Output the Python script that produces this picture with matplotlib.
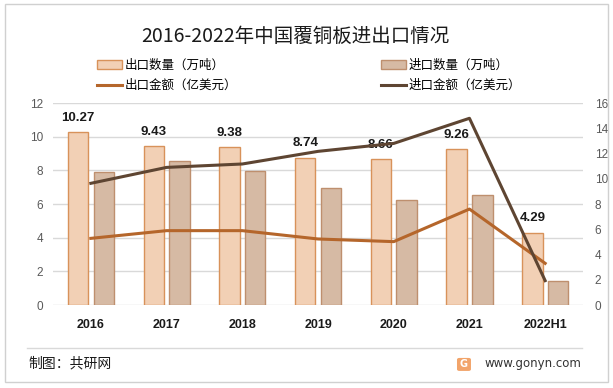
import matplotlib.pyplot as plt
import numpy as np
from matplotlib.patches import Rectangle, FancyBboxPatch
from matplotlib.lines import Line2D

plt.rcParams['font.family'] = ['Noto Sans CJK SC', 'DejaVu Sans']

years        = ['2016', '2017', '2018', '2019', '2020', '2021', '2022H1']
export_qty   = [10.27, 9.43, 9.38, 8.74, 8.66, 9.26, 4.29]   # 万吨
import_qty   = [7.90, 8.56, 7.96, 6.93, 6.24, 6.52, 1.41]    # 万吨
export_amt   = [5.28, 5.89, 5.89, 5.23, 5.02, 7.60, 3.30]    # 亿美元
import_amt   = [9.64, 10.90, 11.17, 12.17, 12.80, 14.79, 1.93]  # 亿美元

fig = plt.figure(figsize=(6.13, 3.88), dpi=100)
ax = fig.add_axes([0.0865, 0.2139, 0.8646, 0.5206])
ax2 = ax.twinx()

x = np.arange(len(years))
w = 0.27
off = 0.17

ax.bar(x - off, export_qty, w, color='#F2D0B5', edgecolor='#D8925A', linewidth=1, zorder=2)
ax.bar(x + off, import_qty, w, color='#D6BAA4', edgecolor='#BE8F6E', linewidth=1, zorder=2)

for xi, v in zip(x, export_qty):
    ax.text(xi - off, v + 0.5, f'{v:.2f}', ha='center', va='bottom',
            fontsize=9.5, fontweight='bold', color='#1a1a1a', family='Liberation Sans')

ax2.plot(x, export_amt, color='#B5662B', linewidth=2.2, zorder=3)
ax2.plot(x, import_amt, color='#5E4532', linewidth=2.2, zorder=3)

ax.set_xlim(-0.5, len(years) - 0.5)
ax.set_ylim(0, 12)
ax.set_yticks(np.arange(0, 13, 2))
ax2.set_ylim(0, 16)
ax2.set_yticks(np.arange(0, 17, 2))
ax.set_xticks(x)
ax.set_xticklabels(years, fontweight='bold', fontsize=9, family='Liberation Sans')
for lab in ax.get_yticklabels() + ax2.get_yticklabels():
    lab.set_family('Liberation Sans')
ax.grid(axis='y', color='#d9d9d9', linewidth=1, zorder=0)
ax.set_axisbelow(True)
for a in (ax, ax2):
    for s in a.spines.values():
        s.set_visible(False)
    a.tick_params(length=0, labelsize=8.5, labelcolor='#595959')
ax.tick_params(axis='x', labelcolor='#1a1a1a', labelsize=9, pad=10)
ax.tick_params(axis='y', pad=7)
ax2.tick_params(axis='y', pad=8.5)
ax2.set_zorder(ax.get_zorder() + 1)
ax2.patch.set_visible(False)

fig.text(0.481, 0.905, '2016-2022年中国覆铜板进出口情况', ha='center', va='center',
         fontsize=14, color='#1a1a1a')

handles = [Rectangle((0, 0), 1, 1, facecolor='#F2D0B5', edgecolor='#D8925A'),
           Line2D([], [], color='#B5662B', linewidth=2.2),
           Rectangle((0, 0), 1, 1, facecolor='#D6BAA4', edgecolor='#BE8F6E'),
           Line2D([], [], color='#5E4532', linewidth=2.2)]
labels = ['出口数量（万吨）', '出口金额（亿美元）', '进口数量（万吨）', '进口金额（亿美元）']
fig.legend(handles, labels, ncol=2, loc='upper left', bbox_to_anchor=(0.150, 0.862),
           frameon=False, fontsize=9, handlelength=2.0, handleheight=0.7,
           columnspacing=11.5, labelspacing=0.6, handletextpad=0.2, borderaxespad=0)

# outer frame and footer
fig.patches.append(Rectangle((0.008, 0.015), 0.984, 0.975, transform=fig.transFigure,
                             fill=False, edgecolor='#d0d0d0', linewidth=1))
fig.add_artist(Line2D([0.044, 0.949], [0.103, 0.103], color='#d9d9d9', linewidth=1))
fig.text(0.047, 0.064, '制图：共研网', fontsize=10, va='center', color='#1a1a1a')
fig.patches.append(FancyBboxPatch((0.7455, 0.044), 0.0228, 0.0335, transform=fig.transFigure,
                                  boxstyle='round,pad=0,rounding_size=0.004',
                                  facecolor='#F2A46A', edgecolor='none'))
fig.text(0.7569, 0.061, 'G', fontsize=7, fontweight='bold', ha='center', va='center',
         color='white', family='DejaVu Sans')
fig.text(0.79, 0.062, 'www.gonyn.com', fontsize=8.5, va='center', color='#333333',
         family='DejaVu Sans')

fig.savefig('out.png', dpi=100)
